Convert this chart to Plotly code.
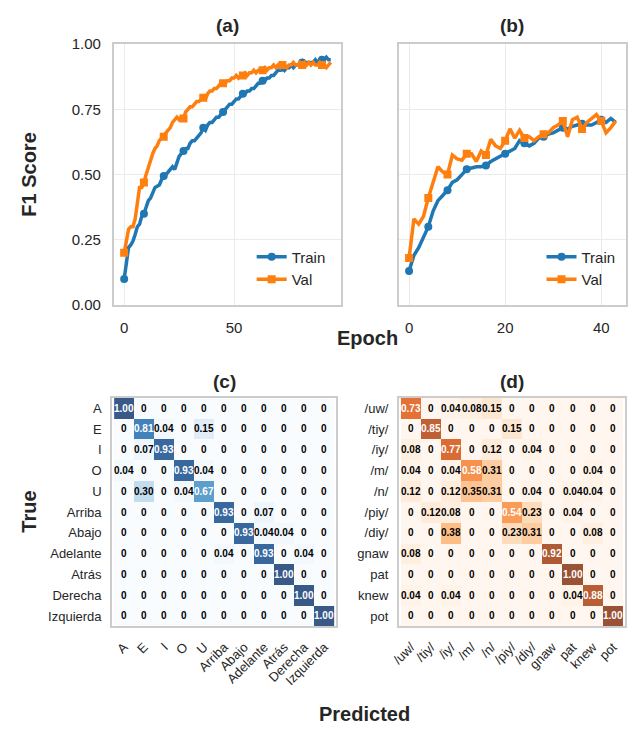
import plotly.graph_objects as go

# ---------------- data ----------------
train_a = [0.10, 0.17, 0.22, 0.23, 0.245, 0.27, 0.30, 0.31, 0.34, 0.35,
           0.38, 0.40, 0.41, 0.43, 0.45, 0.455, 0.46, 0.48, 0.495, 0.50,
           0.51, 0.52, 0.53, 0.52, 0.55, 0.57, 0.58, 0.59, 0.60, 0.60,
           0.62, 0.63, 0.63, 0.64, 0.65, 0.66, 0.68, 0.67, 0.69, 0.70,
           0.70, 0.71, 0.72, 0.72, 0.73, 0.74, 0.75, 0.76, 0.77, 0.77,
           0.78, 0.79, 0.79, 0.80, 0.81, 0.81, 0.82, 0.82, 0.83, 0.83,
           0.84, 0.85, 0.85, 0.86, 0.86, 0.87, 0.87, 0.88, 0.88, 0.89,
           0.90, 0.90, 0.91, 0.90, 0.91, 0.91, 0.92, 0.91, 0.92, 0.92,
           0.92, 0.93, 0.92, 0.93, 0.93, 0.93, 0.93, 0.94, 0.93, 0.94,
           0.94, 0.94, 0.95, 0.94, 0.94]
val_a = [0.20, 0.24, 0.29, 0.30, 0.30, 0.33, 0.40, 0.45, 0.45, 0.47,
         0.50, 0.53, 0.56, 0.58, 0.60, 0.61, 0.63, 0.64, 0.645, 0.66,
         0.67, 0.68, 0.70, 0.71, 0.72, 0.71, 0.72, 0.715, 0.74, 0.75,
         0.76, 0.76, 0.77, 0.78, 0.78, 0.79, 0.795, 0.79, 0.81, 0.82,
         0.82, 0.83, 0.83, 0.84, 0.85, 0.85, 0.85, 0.86, 0.86, 0.87,
         0.87, 0.88, 0.87, 0.88, 0.88, 0.89, 0.88, 0.89, 0.89, 0.90,
         0.89, 0.90, 0.90, 0.90, 0.91, 0.90, 0.91, 0.91, 0.92, 0.91,
         0.92, 0.91, 0.92, 0.92, 0.91, 0.92, 0.92, 0.93, 0.92, 0.92,
         0.93, 0.92, 0.93, 0.92, 0.93, 0.92, 0.93, 0.92, 0.92, 0.93,
         0.92, 0.92, 0.91, 0.92, 0.93]
train_b = [0.13, 0.19, 0.22, 0.26, 0.30, 0.36, 0.40, 0.42, 0.44, 0.47,
           0.48, 0.50, 0.52, 0.525, 0.53, 0.53, 0.535, 0.55, 0.56, 0.57,
           0.58, 0.59, 0.60, 0.63, 0.62, 0.61, 0.62, 0.64, 0.645, 0.655,
           0.66, 0.67, 0.68, 0.675, 0.685, 0.69, 0.695, 0.69, 0.69, 0.70,
           0.71, 0.70, 0.715, 0.70]
val_b = [0.18, 0.33, 0.31, 0.34, 0.41, 0.47, 0.53, 0.51, 0.50, 0.575,
         0.56, 0.555, 0.58, 0.58, 0.55, 0.59, 0.575, 0.635, 0.61, 0.60,
         0.63, 0.675, 0.64, 0.67, 0.64, 0.645, 0.63, 0.645, 0.655, 0.66,
         0.68, 0.69, 0.705, 0.645, 0.71, 0.72, 0.675, 0.70, 0.715, 0.73,
         0.705, 0.66, 0.68, 0.705]

labels_c = ["A", "E", "I", "O", "U", "Arriba", "Abajo", "Adelante", "Atrás", "Derecha", "Izquierda"]
cm_c = [
    [1.00, 0, 0, 0, 0, 0, 0, 0, 0, 0, 0],
    [0, 0.81, 0.04, 0, 0.15, 0, 0, 0, 0, 0, 0],
    [0, 0.07, 0.93, 0, 0, 0, 0, 0, 0, 0, 0],
    [0.04, 0, 0, 0.93, 0.04, 0, 0, 0, 0, 0, 0],
    [0, 0.30, 0, 0.04, 0.67, 0, 0, 0, 0, 0, 0],
    [0, 0, 0, 0, 0, 0.93, 0, 0.07, 0, 0, 0],
    [0, 0, 0, 0, 0, 0, 0.93, 0.04, 0.04, 0, 0],
    [0, 0, 0, 0, 0, 0.04, 0, 0.93, 0, 0.04, 0],
    [0, 0, 0, 0, 0, 0, 0, 0, 1.00, 0, 0],
    [0, 0, 0, 0, 0, 0, 0, 0, 0, 1.00, 0],
    [0, 0, 0, 0, 0, 0, 0, 0, 0, 0, 1.00],
]
labels_d = ["/uw/", "/tiy/", "/iy/", "/m/", "/n/", "/piy/", "/diy/", "gnaw", "pat", "knew", "pot"]
cm_d = [
    [0.73, 0, 0.04, 0.08, 0.15, 0, 0, 0, 0, 0, 0],
    [0, 0.85, 0, 0, 0, 0.15, 0, 0, 0, 0, 0],
    [0.08, 0, 0.77, 0, 0.12, 0, 0.04, 0, 0, 0, 0],
    [0.04, 0, 0.04, 0.58, 0.31, 0, 0, 0, 0, 0.04, 0],
    [0.12, 0, 0.12, 0.35, 0.31, 0, 0.04, 0, 0.04, 0.04, 0],
    [0, 0.12, 0.08, 0, 0, 0.54, 0.23, 0, 0.04, 0, 0],
    [0, 0, 0.38, 0, 0, 0.23, 0.31, 0, 0, 0.08, 0],
    [0.08, 0, 0, 0, 0, 0, 0, 0.92, 0, 0, 0],
    [0, 0, 0, 0, 0, 0, 0, 0, 1.00, 0, 0],
    [0.04, 0, 0.04, 0, 0, 0, 0, 0, 0.04, 0.88, 0],
    [0, 0, 0, 0, 0, 0, 0, 0, 0, 0, 1.00],
]

# ---------------- style ----------------
W, H = 628, 735
BLUE, ORANGE = "#1f77b4", "#ff7f0e"
TXT = "#262626"
FONT = "Liberation Sans, Arial, sans-serif"
GRID = "#ebebeb"
SPINE = "#cccccc"

BLUES = ["#f7fbff", "#deebf7", "#c6dbef", "#9ecae1", "#6baed6", "#4292c6", "#2171b5", "#08519c", "#08306b"]
ORANGES = ["#fff5eb", "#fee6ce", "#fdd0a2", "#fdae6b", "#fd8d3c", "#f16913", "#d94801", "#a63603", "#7f2704"]


def faded_scale(hexes, alpha=0.8):
    out = []
    n = len(hexes) - 1
    for i, h in enumerate(hexes):
        r, g, b = int(h[1:3], 16), int(h[3:5], 16), int(h[5:7], 16)
        r, g, b = [round(alpha * c + (1 - alpha) * 255) for c in (r, g, b)]
        out.append([i / n, f"rgb({r},{g},{b})"])
    return out


def px(xp):
    return xp / W


def py(yp):
    return 1 - yp / H


fig = go.Figure()

# ---------------- line panels ----------------
def add_curves(train, val, every, xa, ya, legend):
    ep = list(range(len(train)))
    for name, vals, color, sym in (("Train", train, BLUE, "circle"), ("Val", val, ORANGE, "square")):
        fig.add_trace(go.Scatter(x=ep, y=vals, mode="lines", line=dict(color=color, width=3.5),
                                 xaxis=xa, yaxis=ya, showlegend=False, hoverinfo="skip"))
        fig.add_trace(go.Scatter(x=ep[::every], y=vals[::every], mode="markers",
                                 marker=dict(color=color, size=8, symbol=sym),
                                 xaxis=xa, yaxis=ya, showlegend=False, hoverinfo="skip"))
        fig.add_trace(go.Scatter(x=[None], y=[None], mode="lines+markers", name=name,
                                 line=dict(color=color, width=3.5),
                                 marker=dict(color=color, size=8, symbol=sym),
                                 xaxis=xa, yaxis=ya, legend=legend, hoverinfo="skip"))


add_curves(train_a, val_a, 9, "x", "y", "legend")
add_curves(train_b, val_b, 4, "x2", "y2", "legend2")

line_axis = dict(showgrid=True, gridcolor=GRID, gridwidth=1, zeroline=False,
                 showline=True, linecolor=SPINE, linewidth=2, mirror=True,
                 ticks="", tickfont=dict(size=15, color=TXT, family=FONT),
                 ticklabelstandoff=8)

na, nb = len(train_a) - 1, len(train_b) - 1
fig.update_layout(
    xaxis=dict(domain=[px(106.7), px(338)], anchor="y", range=[-0.05 * na, 1.05 * na],
               tickvals=[0, 50], **line_axis),
    yaxis=dict(domain=[py(303), py(36)], anchor="x", range=[0, 1.0],
               tickvals=[0, 0.25, 0.5, 0.75, 1.0], tickformat=".2f", **line_axis),
    xaxis2=dict(domain=[px(396.7), 1.0], anchor="y2", range=[-0.05 * nb, 1.05 * nb],
                tickvals=[0, 20, 40], **line_axis),
    yaxis2=dict(domain=[py(303), py(36)], anchor="x2", range=[0, 1.0],
                tickvals=[0, 0.25, 0.5, 0.75, 1.0], showticklabels=False, **line_axis),
)

# ---------------- confusion matrices ----------------
def add_cm(cm, labels, scale, xa, ya):
    fig.add_trace(go.Heatmap(z=cm, x=labels, y=labels, colorscale=scale, zmin=0, zmax=1,
                             showscale=False, xaxis=xa, yaxis=ya, hoverinfo="skip"))
    for i, row in enumerate(cm):
        for j, v in enumerate(row):
            txt = "0" if v == 0 else f"{v:.2f}"
            fig.add_annotation(x=labels[j], y=labels[i], xref=xa, yref=ya, text=f"<b>{txt}</b>",
                               showarrow=False,
                               font=dict(size=10, family=FONT, color="white" if v > 0.5 else "black"))


add_cm(cm_c, labels_c, faded_scale(BLUES), "x3", "y3")
add_cm(cm_d, labels_d, faded_scale(ORANGES), "x4", "y4")

cm_axis = dict(showgrid=False, zeroline=False, showline=True, linecolor=SPINE, linewidth=2,
               mirror=True, ticks="", tickfont=dict(size=13, color=TXT, family=FONT),
               type="category", ticklabelstandoff=6)
fig.update_layout(
    xaxis3=dict(domain=[px(105), px(333)], anchor="y3", tickangle=-45, **cm_axis),
    yaxis3=dict(domain=[py(632), py(398)], anchor="x3", autorange="reversed", **cm_axis),
    xaxis4=dict(domain=[px(397), px(627)], anchor="y4", tickangle=-45, **cm_axis),
    yaxis4=dict(domain=[py(632), py(398)], anchor="x4", autorange="reversed", **cm_axis),
)

# ---------------- titles ----------------
def label(text, xp, yp, size=19, angle=0):
    fig.add_annotation(x=px(xp), y=py(yp), xref="paper", yref="paper", text=f"<b>{text}</b>",
                       showarrow=False, textangle=angle, xanchor="center", yanchor="middle",
                       font=dict(size=size, color=TXT, family=FONT))


label("(a)", 222.3, 17)
label("(b)", 512, 17)
label("(c)", 219, 381)
label("(d)", 512, 381)
label("F1 Score", 20, 170, size=20, angle=-90)
label("Epoch", 365, 337, size=20)
label("True", 20, 515, size=20, angle=-90)
label("Predicted", 362, 722, size=20)

legend_style = dict(font=dict(size=15, color=TXT, family=FONT), bgcolor="rgba(0,0,0,0)",
                    xanchor="left", yanchor="top", tracegroupgap=0, itemwidth=30)
fig.update_layout(
    width=W, height=H, margin=dict(l=0, r=0, t=0, b=0),
    paper_bgcolor="white", plot_bgcolor="white",
    font=dict(family=FONT, color=TXT),
    hovermode=False,
    legend=dict(x=px(247), y=py(237), **legend_style),
    legend2=dict(x=px(542), y=py(237), **legend_style),
)

fig.write_html("out.html", config={"displayModeBar": False},
               post_script="document.body.style.margin='0';document.body.style.overflow='hidden';")
